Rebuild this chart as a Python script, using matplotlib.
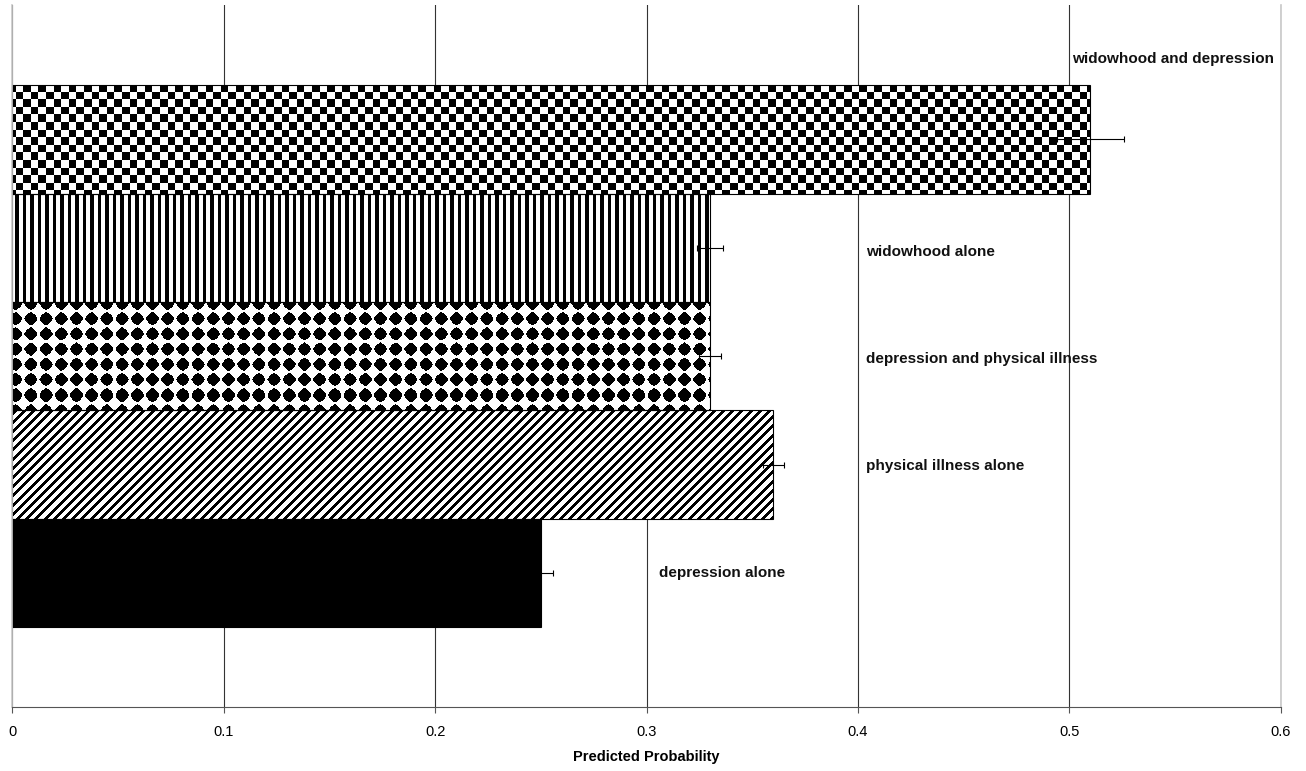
import numpy as np
import matplotlib
matplotlib.use("Agg")
import matplotlib.pyplot as plt

# data, bottom to top
categories = ["depression alone", "physical illness alone",
              "depression and physical illness", "widowhood alone",
              "widowhood and depression"]
probabilities = [0.25, 0.36, 0.33, 0.33, 0.51]
errors = [0.0057, 0.005, 0.0053, 0.006, 0.016]

# where Excel put the data labels
label_x = [0.306, 0.404, 0.404, 0.404, 0.5015]
label_dy = [0.0, -0.01, -0.03, -0.04, 0.74]
patterns = ["solid", "diagonal", "diamond", "vstripe", "checker"]

plt.rcParams['font.family'] = ['Liberation Sans', 'DejaVu Sans']

W, H = 1306, 771
fig = plt.figure(figsize=(W / 100, H / 100), dpi=100)
ax = fig.add_axes([12.5 / W, 1 - 707 / H, (1280.7 - 12.5) / W, (707 - 5) / H])

ax.set_xlim(0, 0.6)
ax.set_ylim(-1.236, 5.24)
pos = np.arange(len(categories))


def texture(kind, w, h, x0, r0):
    xs = np.arange(w)[None, :] + x0
    rs = np.arange(h)[:, None] + r0
    if kind == "checker":
        c = 7.6
        black = ((np.floor(xs / c) + np.floor(rs / c)) % 2) == 0
    elif kind == "vstripe":
        black = (xs % 7.5) < 3.3
        black = np.broadcast_to(black, (h, w))
    elif kind == "diamond":
        p = 15.2
        dx = np.abs(((xs + p / 2) % p) - p / 2)
        dy = np.abs(((rs + p / 2) % p) - p / 2)
        black = (dx / 6.6) ** 1.35 + (dy / 6.6) ** 1.35 < 1
    elif kind == "diagonal":
        black = ((xs + rs) % 9.2) < 4.0
    else:
        black = np.ones((h, w), dtype=bool)
    return np.where(black, 0.0, 1.0)


bars = ax.barh(pos, probabilities, height=1.0, facecolor="none",
               edgecolor="black", linewidth=0.8, zorder=2)

inv = ax.transData.inverted()
for bar, kind in zip(bars, patterns):
    x0, y0 = bar.get_x(), bar.get_y()
    x1, y1 = x0 + bar.get_width(), y0 + bar.get_height()
    (px0, py0), (px1, py1) = ax.transData.transform([[x0, y0], [x1, y1]])
    # snap the texture to whole pixels so it is not resampled
    px0, py0 = np.floor(px0) - 1, np.floor(py0) - 1
    px1, py1 = np.ceil(px1) + 1, np.ceil(py1) + 1
    w, h = int(px1 - px0), int(py1 - py0)
    img = texture(kind, w, h, int(px0), int(H - py1))
    (ex0, ey0), (ex1, ey1) = inv.transform([[px0 + 0.5, py0],
                                            [px1 + 0.5, py1]])
    im = ax.imshow(img, extent=(ex0, ex1, ey0, ey1), cmap="gray", vmin=0,
                   vmax=1, interpolation="nearest", aspect="auto", zorder=1.9)
    im.set_clip_path(bar)

ax.errorbar(probabilities, pos, xerr=errors, fmt="none", ecolor="black",
            elinewidth=0.8, capsize=2.5, capthick=0.8, zorder=3)

for i, name in enumerate(categories):
    ax.text(label_x[i], pos[i] + label_dy[i], name, fontsize=11,
            fontweight="bold", ha="left", va="center", color="#111111")

ax.set_xlim(0, 0.6)
ax.set_ylim(-1.236, 5.24)
ax.set_xticks(np.arange(0, 0.61, 0.1))
ax.set_xticklabels(["0", "0.1", "0.2", "0.3", "0.4", "0.5", "0.6"])
ax.set_yticks([])
ax.tick_params(axis="x", direction="out", length=4, width=0.8,
               color="#555555", labelsize=10.5, pad=9)
ax.xaxis.grid(True, color="#333333", linewidth=0.8)
ax.set_axisbelow(True)

ax.spines["top"].set_visible(False)
ax.spines["left"].set_color("#c8c8c8")
ax.spines["right"].set_color("#c8c8c8")
ax.spines["left"].set_linewidth(1.2)
ax.spines["right"].set_linewidth(1.2)
ax.spines["bottom"].set_color("#555555")
ax.spines["bottom"].set_linewidth(0.8)

ax.set_xlabel("Predicted Probability", fontsize=10.5, fontweight="bold",
              labelpad=8)

fig.savefig("out.png", dpi=100)
